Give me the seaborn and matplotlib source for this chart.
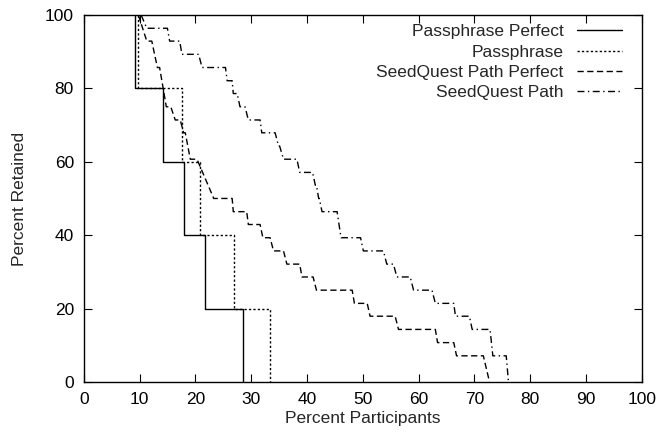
import matplotlib
matplotlib.use("Agg")
import matplotlib.pyplot as plt
import pandas as pd
import seaborn as sns

# Passphrase Perfect (solid) - step levels and the x where each level ends
pp_level = [100, 80, 60, 40, 20, 0]
pp_drop = [9.2, 14.2, 18.0, 21.8, 28.6]

# Passphrase (dotted)
p_level = [100, 80, 60, 40, 20, 0]
p_drop = [9.8, 17.6, 20.9, 27.0, 33.4]

# SeedQuest Path Perfect (dashed) - level, where it starts and ends
sqpp_level = [100, 92.9, 85.7, 75.0, 71.4, 67.9, 60.7, 50.0, 46.4, 42.9, 39.3,
              35.7, 32.1, 28.6, 25.0, 21.4, 17.9, 14.3, 10.7, 7.1, 0]
sqpp_start = [9.8, 11.3, 13.2, 14.8, 16.4, 17.9, 19.1, 23.3, 26.8, 29.5, 32.1,
              34.0, 36.4, 39.1, 41.7, 48.5, 51.3, 56.4, 63.4, 66.8, 72.7]
sqpp_end = [9.8, 12.2, 13.6, 15.6, 17.3, 18.2, 20.3, 26.6, 29.2, 31.6, 33.4,
            35.8, 38.7, 41.1, 48.1, 50.8, 55.8, 63.0, 66.3, 71.6, 72.7]

# SeedQuest Path (dash-dot)
sqp_level = [100, 96.4, 92.9, 89.3, 85.7, 82.1, 78.6, 75.0, 71.4, 67.9, 64.3,
             60.7, 57.1, 53.6, 50.0, 46.4, 39.3, 35.7, 32.1, 28.6, 25.0, 21.4,
             17.9, 14.3, 7.1, 0]
sqp_start = [10.3, 11.3, 15.4, 17.6, 21.2, 25.7, 26.8, 28.0, 29.5, 31.9, 34.9,
             35.8, 38.7, 41.5, 42.1, 42.7, 46.1, 50.1, 54.3, 56.1, 59.1, 63.0,
             66.6, 69.6, 73.3, 76.1]
sqp_end = [10.3, 15.0, 17.2, 20.6, 25.4, 26.6, 27.5, 28.9, 31.6, 34.3, 35.1,
           38.2, 41.0, 41.7, 42.2, 45.4, 49.6, 53.7, 55.5, 58.5, 62.4, 66.3,
           69.1, 72.8, 75.7, 76.1]


def steps_from_drops(levels, drops):
    xs, ys = [], []
    for i, lv in enumerate(levels):
        if i > 0:
            xs.append(drops[i - 1])
            ys.append(lv)
        if i < len(drops):
            xs.append(drops[i])
            ys.append(lv)
    return pd.DataFrame({"x": xs, "y": ys})


def steps_from_segments(levels, starts, ends):
    xs, ys = [], []
    for lv, s, e in zip(levels, starts, ends):
        xs += [s, e]
        ys += [lv, lv]
    return pd.DataFrame({"x": xs, "y": ys})


sns.set_theme(style="ticks")
plt.rcParams["font.family"] = ["Liberation Sans", "DejaVu Sans"]
fs = 12.5

fig = plt.figure(figsize=(6.59, 4.43), dpi=100)
ax = fig.add_axes([0.127, 0.138, 0.847, 0.828])

series = [
    ("Passphrase Perfect", steps_from_drops(pp_level, pp_drop), "-"),
    ("Passphrase", steps_from_drops(p_level, p_drop), (0, (1.6, 1.6))),
    ("SeedQuest Path Perfect", steps_from_segments(sqpp_level, sqpp_start, sqpp_end), (0, (4.5, 2.5))),
    ("SeedQuest Path", steps_from_segments(sqp_level, sqp_start, sqp_end), (0, (5, 2.5, 1, 2.5))),
]
for name, d, ls in series:
    sns.lineplot(data=d, x="x", y="y", ax=ax, color="black", linewidth=1.0,
                 linestyle=ls, estimator=None, sort=False, label=name)

ax.set_xlim(0, 100)
ax.set_ylim(0, 100)
ax.set_xticks(range(0, 101, 10))
ax.set_yticks(range(0, 101, 20))
ax.tick_params(direction="in", length=6, width=0.8, top=True, right=True,
               labelsize=fs, colors="black", pad=7)
for sp in ax.spines.values():
    sp.set_visible(True)
    sp.set_linewidth(1.0)
    sp.set_color("black")
ax.set_xlabel("Percent Participants", fontsize=fs, labelpad=3)
ax.set_ylabel("Percent Retained", fontsize=fs, labelpad=13)

ax.legend(loc="upper right", bbox_to_anchor=(0.965, 0.975), frameon=False,
          markerfirst=False, fontsize=fs, handlelength=2.6, labelspacing=0.3,
          handletextpad=0.8, borderpad=0, borderaxespad=0)

fig.savefig("out.png", dpi=100)
